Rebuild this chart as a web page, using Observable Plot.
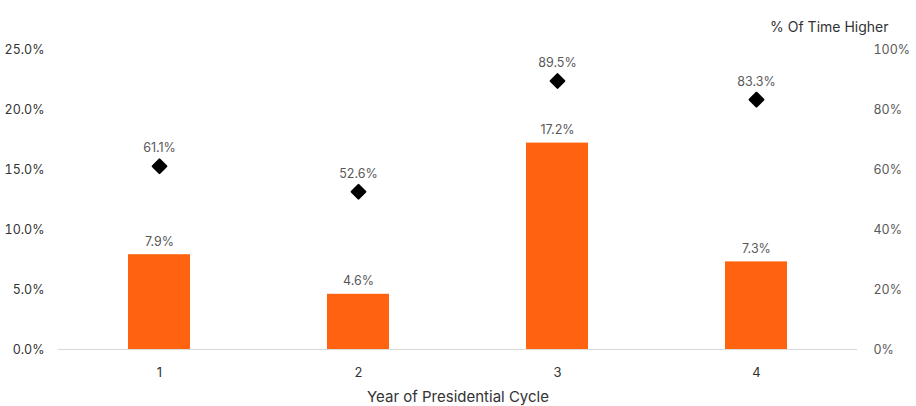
<!DOCTYPE html>
<html>
<head>
<meta charset="utf-8">
<script src="https://cdn.jsdelivr.net/npm/d3@7"></script>
<script src="https://cdn.jsdelivr.net/npm/@observablehq/plot@0.6"></script>
<style>
  html, body { margin: 0; padding: 0; background: #fff; }
  #chart svg { display: block; }
</style>
</head>
<body>
<div id="chart"></div>
<script>
// Year of the presidential cycle
const years = ["1", "2", "3", "4"];
// Average return (%) per year of the cycle
const avgReturn = [7.9, 4.6, 17.2, 7.3];
// Percent of time the market finished higher
const pctHigher = [61.1, 52.6, 89.5, 83.3];
// Tick values for both vertical axes
const leftTicks = [0, 5, 10, 15, 20, 25];
const rightTicks = [0, 20, 40, 60, 80, 100];

const rows = years.map((y, i) => ({ year: y, ret: avgReturn[i], higher: pctHigher[i] }));

// The right axis (0–100%) shares the frame with the left axis (0–25%)
const ratio = 100 / 25;

const font = "Inter, 'Open Sans', sans-serif";
const orange = "#FF6310";

const chart = Plot.plot({
  width: 916,
  height: 406,
  marginTop: 49,
  marginBottom: 57,
  marginLeft: 58,
  marginRight: 59,
  style: { fontFamily: font, fontSize: "13px", color: "#333", background: "#fff" },
  x: { domain: years, paddingInner: 0.69, paddingOuter: 0.345, label: null },
  y: { domain: [0, 25], label: null },
  marks: [
    Plot.barY(rows, { x: "year", y: "ret", fill: orange }),
    Plot.ruleY([0], { stroke: "#d9d9d9", strokeWidth: 1 }),
    Plot.axisY({
      anchor: "left", ticks: leftTicks, tickSize: 0, tickPadding: 14,
      tickFormat: d => d.toFixed(1) + "%", label: null, fill: "#333", fontSize: 12.5
    }),
    Plot.axisY({
      anchor: "right", ticks: leftTicks, tickSize: 0, tickPadding: 16,
      tickFormat: (d, i) => rightTicks[i] + "%", label: null, fill: "#595959", fontSize: 12.5
    }),
    Plot.axisX({ tickSize: 0, tickPadding: 18, label: null, fill: "#333", fontSize: 13 }),
    Plot.text(rows, {
      x: "year", y: "ret", text: d => d.ret.toFixed(1) + "%",
      dy: -13, fill: "#595959", fontSize: 12.5
    }),
    Plot.dot(rows, {
      x: "year", y: d => d.higher / ratio, symbol: "square", rotate: 45,
      r: 5.4, fill: "#000", stroke: "#000", strokeWidth: 2.2, strokeLinejoin: "round"
    }),
    Plot.text(rows, {
      x: "year", y: d => d.higher / ratio, text: d => d.higher.toFixed(1) + "%",
      dy: -18, fill: "#595959", fontSize: 12.5
    }),
    Plot.text(["% Of Time Higher"], {
      frameAnchor: "top-right", text: d => d, textAnchor: "end",
      dx: 31, dy: -27, fill: "#333", fontSize: 14
    }),
    Plot.text(["Year of Presidential Cycle"], {
      frameAnchor: "bottom", text: d => d, dy: 52, fill: "#333", fontSize: 15
    })
  ]
});

document.getElementById("chart").append(chart);
</script>
</body>
</html>
